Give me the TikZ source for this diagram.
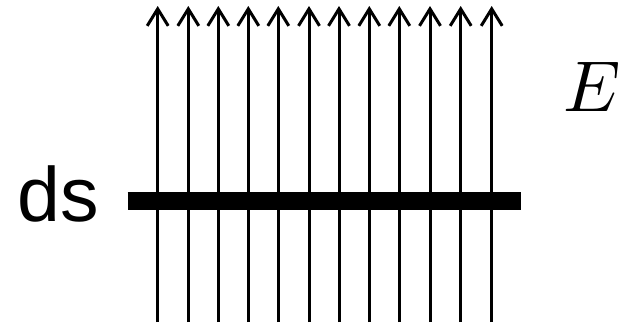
\documentclass[tikz,border=0pt]{standalone}
\usepackage{fontspec}
\usepackage{unicode-math}
\setmainfont{Liberation Sans}
\setmathfont{Latin Modern Math}
\usetikzlibrary{arrows.meta}
\begin{document}
\begin{tikzpicture}[x=1pt,y=-1pt,
  fieldline/.style={line width=3pt,-{Straight Barb[length=17pt,width=21pt,line width=3pt]}},
  plate/.style={line width=18pt},
  lbl/.style={inner sep=0pt,anchor=base west}]
\useasboundingbox (0,0) rectangle (621,327);
\foreach \i/\x in {1/157.7,2/188.3,3/218.3,4/248.3,5/278.3,6/309,7/339,8/369.3,9/399.3,10/430,11/460.7,12/491.7}{
  \coordinate (b\i) at (\x,322);
  \coordinate (t\i) at (\x,6);
  \draw[fieldline] (b\i) -- (t\i);
}
\coordinate (pl) at (127.7,201);
\coordinate (pr) at (520.7,201);
\draw[plate] (pl) -- (pr);
\node[lbl,font=\fontsize{77}{80}\selectfont] (ds) at (17,221.7) {ds};
\node[lbl,font=\fontsize{72}{76}\selectfont] (E) at (563,111.7) {$E$};
\end{tikzpicture}
\end{document}
